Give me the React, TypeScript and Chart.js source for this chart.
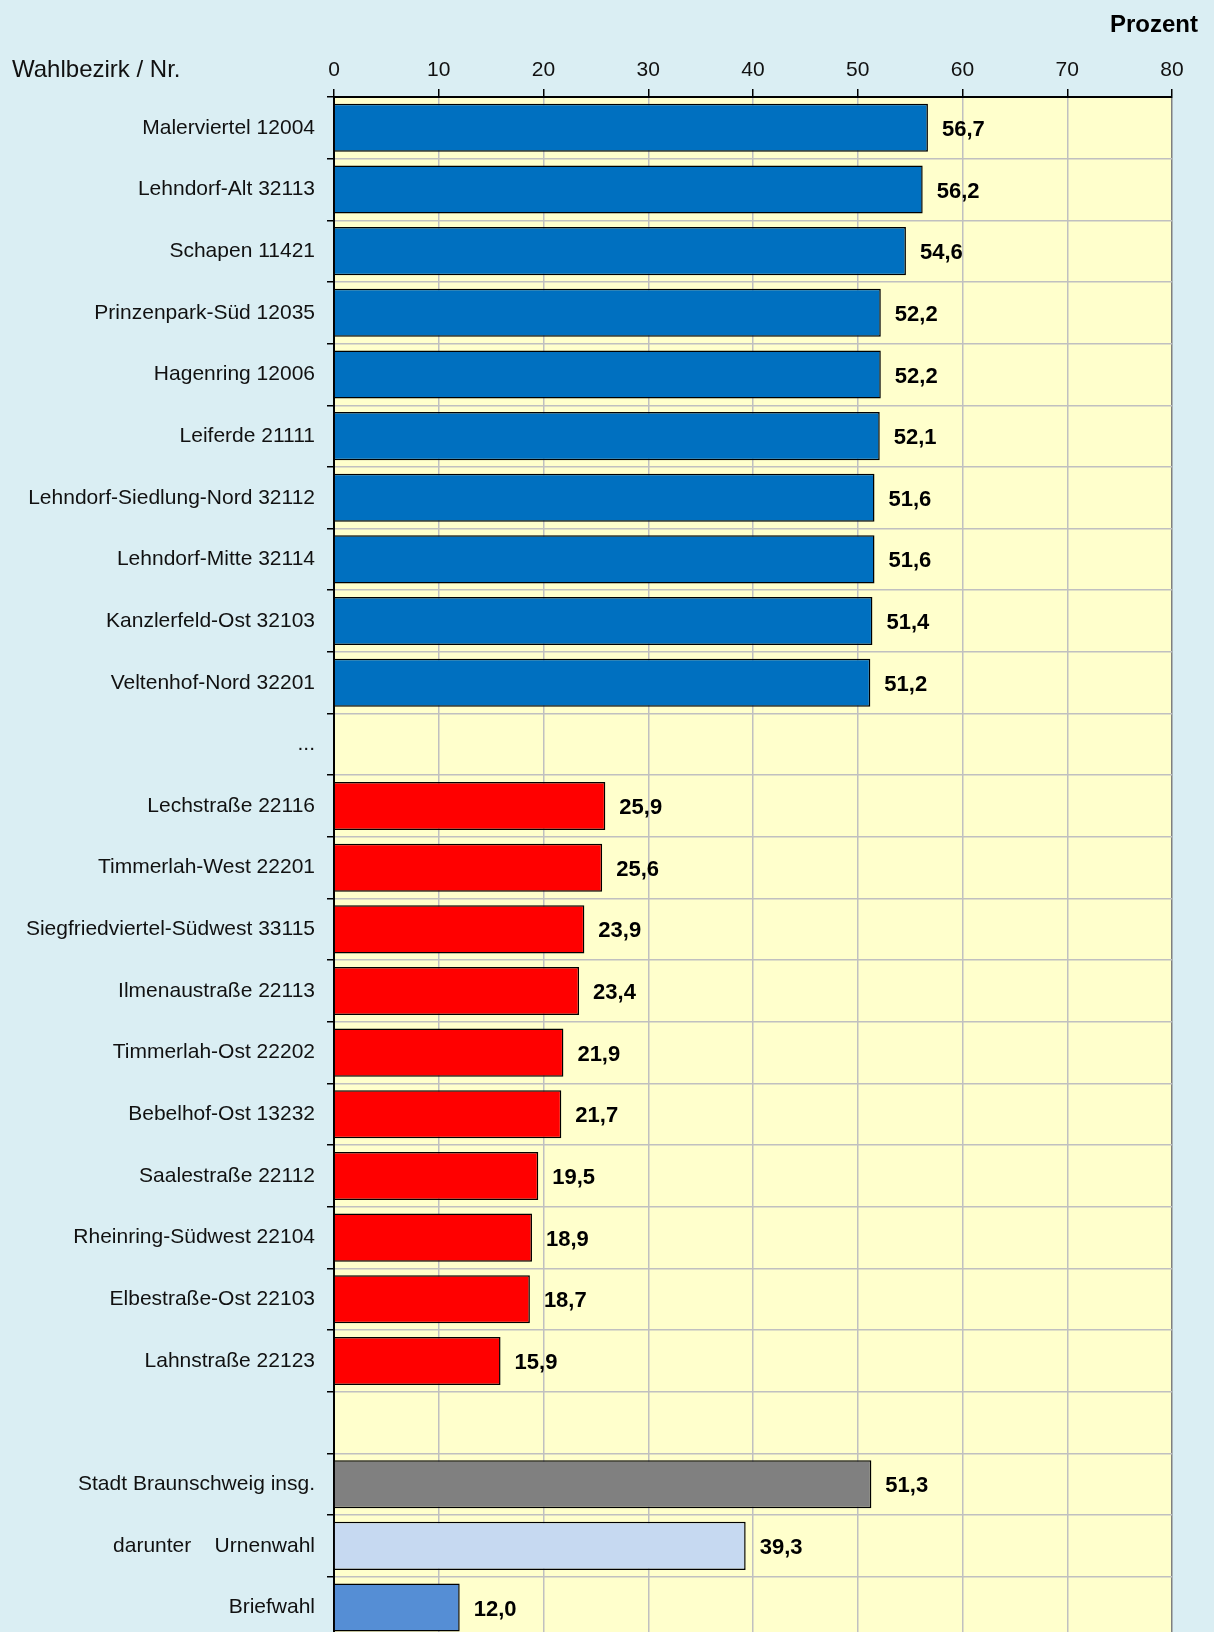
import React, { useEffect, useRef } from 'react';
import { Chart, registerables } from 'chart.js';

Chart.register(...registerables);

const topDistricts = [
  'Malerviertel 12004',
  'Lehndorf-Alt 32113',
  'Schapen 11421',
  'Prinzenpark-Süd 12035',
  'Hagenring 12006',
  'Leiferde 21111',
  'Lehndorf-Siedlung-Nord 32112',
  'Lehndorf-Mitte 32114',
  'Kanzlerfeld-Ost 32103',
  'Veltenhof-Nord 32201',
];
const topValues = [56.7, 56.2, 54.6, 52.2, 52.2, 52.1, 51.6, 51.6, 51.4, 51.2];

const bottomDistricts = [
  'Lechstraße 22116',
  'Timmerlah-West 22201',
  'Siegfriedviertel-Südwest 33115',
  'Ilmenaustraße 22113',
  'Timmerlah-Ost 22202',
  'Bebelhof-Ost 13232',
  'Saalestraße 22112',
  'Rheinring-Südwest 22104',
  'Elbestraße-Ost 22103',
  'Lahnstraße 22123',
];
const bottomValues = [25.9, 25.6, 23.9, 23.4, 21.9, 21.7, 19.5, 18.9, 18.7, 15.9];

const summaryLabels = ['Stadt Braunschweig insg.', 'darunter    Urnenwahl', 'Briefwahl'];
const summaryValues = [51.3, 39.3, 12.0];

const gapLabels = ['...', ''];

const xMin = 0;
const xMax = 80;
const xStep = 10;

const FONT = "'Liberation Sans', Arial, sans-serif";
const TOP_COLOR = '#0070C0';
const BOTTOM_COLOR = '#FF0000';
const SUMMARY_COLORS = ['#808080', '#C6D9F1', '#558ED5'];
const PAGE_BG = '#DAEEF3';
const PLOT_BG = '#FFFFCC';
const GRID = '#C0C0C0';

const labels = [...topDistricts, gapLabels[0], ...bottomDistricts, gapLabels[1], ...summaryLabels];
const values: (number | null)[] = [...topValues, null, ...bottomValues, null, ...summaryValues];
const colors = [
  ...topValues.map(() => TOP_COLOR),
  'transparent',
  ...bottomValues.map(() => BOTTOM_COLOR),
  'transparent',
  ...SUMMARY_COLORS,
];

const bgPlugin = {
  id: 'plotBg',
  beforeDraw(chart: any) {
    const { ctx, chartArea } = chart;
    ctx.save();
    ctx.fillStyle = PAGE_BG;
    ctx.fillRect(0, 0, chart.width, chart.height);
    ctx.fillStyle = PLOT_BG;
    ctx.fillRect(chartArea.left, chartArea.top, chartArea.right - chartArea.left, chartArea.bottom - chartArea.top);
    ctx.restore();
  },
};

const labelPlugin = {
  id: 'valueLabels',
  afterDatasetsDraw(chart: any) {
    const ctx = chart.ctx;
    const meta = chart.getDatasetMeta(0);
    ctx.save();
    ctx.font = `bold 22px ${FONT}`;
    ctx.fillStyle = '#000';
    ctx.textBaseline = 'middle';
    ctx.textAlign = 'left';
    meta.data.forEach((el: any, i: number) => {
      const v = values[i];
      if (v == null) return;
      ctx.fillText(v.toFixed(1).replace('.', ','), el.x + 14, el.y + 2);
    });
    ctx.font = `bold 24px ${FONT}`;
    ctx.textAlign = 'right';
    ctx.textBaseline = 'alphabetic';
    ctx.fillText('Prozent', 1198, 32);
    ctx.font = `24px ${FONT}`;
    ctx.textAlign = 'left';
    ctx.fillStyle = '#111';
    ctx.fillText('Wahlbezirk / Nr.', 12, 77);
    ctx.restore();
  },
};

export default function App() {
  const canvasRef = useRef<HTMLCanvasElement>(null);

  useEffect(() => {
    document.body.style.margin = '0';
    document.body.style.background = PAGE_BG;
    const canvas = canvasRef.current;
    if (!canvas) return;
    const chart = new Chart(canvas, {
      type: 'bar',
      data: {
        labels,
        datasets: [
          {
            data: values,
            backgroundColor: colors,
            borderColor: '#000',
            borderWidth: 1.5,
            barPercentage: 0.78,
            categoryPercentage: 1,
          },
        ],
      },
      options: {
        indexAxis: 'y',
        responsive: false,
        animation: false,
        devicePixelRatio: 1,
        layout: { padding: { left: 0, right: 42, top: 0, bottom: 0 } },
        plugins: { legend: { display: false }, tooltip: { enabled: false } },
        scales: {
          x: {
            position: 'top',
            min: xMin,
            max: xMax,
            ticks: { stepSize: xStep, color: '#111', font: { family: FONT, size: 21 }, padding: 6 },
            grid: {
              color: (c: any) => (c.index === 0 ? 'transparent' : c.index === 8 ? '#7F7F7F' : GRID),
              lineWidth: 1.5,
              tickColor: '#000',
              tickLength: 8,
            },
            border: { color: '#000', width: 2 },
            afterFit: (s: any) => {
              s.height = 97;
            },
          },
          y: {
            ticks: { color: '#111', font: { family: FONT, size: 21 }, padding: 12, autoSkip: false },
            grid: {
              offset: true,
              color: (c: any) => (c.index === 0 ? 'transparent' : GRID),
              lineWidth: 1.5,
              tickColor: '#000',
              tickLength: 7,
            },
            border: { color: '#000', width: 2 },
            afterFit: (s: any) => {
              s.width = 334;
            },
          },
        },
      } as any,
      plugins: [bgPlugin, labelPlugin],
    });
    return () => chart.destroy();
  }, []);

  return (
    <div style={{ width: 1214, height: 1632, overflow: 'hidden', background: PAGE_BG }}>
      <canvas ref={canvasRef} width={1214} height={1663} style={{ display: 'block', width: 1214, height: 1663 }} />
    </div>
  );
}
